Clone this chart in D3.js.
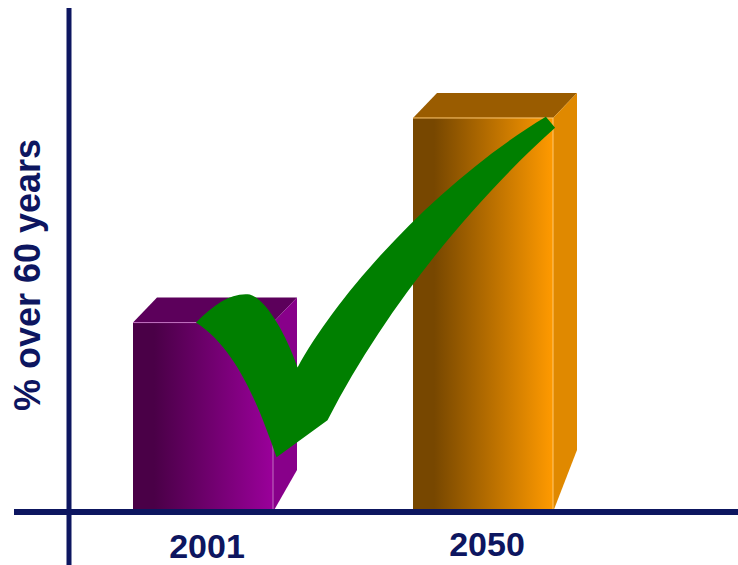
<!DOCTYPE html>
<html>
<head>
<meta charset="utf-8">
<script src="https://cdn.jsdelivr.net/npm/d3@7"></script>
<style>
    body { margin: 0; background: #fff; }
    svg { display: block; }
</style>
</head>
<body>
<div id="chart"></div>
<script>
// data
var years = ["2001", "2050"];
var percentOver60 = [10, 20.8];
var barColors = [
    {dark: "#4a0047", light: "#9a009a", top: "#5c005b", side: "#88008a", edge: "#c070c0"},
    {dark: "#774700", light: "#ff9a00", top: "#9a5c00", side: "#e08900", edge: "#ffc870"}
];
// how far the side face is cut at the bottom (px)
var sideCut = [42, 62];

var width = 738, height = 565;
var navy = "#0d1660";
var depthX = 24, depthY = 25;

var svg = d3.select("#chart").append("svg")
    .attr("width", width)
    .attr("height", height);

var x = d3.scaleBand().domain(years).range([63, 623]).paddingInner(0.5).paddingOuter(0.25);
var y = d3.scaleLinear().domain([0, 26.5]).range([512, 10]);
var bw = x.bandwidth();

var defs = svg.append("defs");
barColors.forEach(function (c, i) {
    var g = defs.append("linearGradient").attr("id", "front" + i)
        .attr("x1", "0%").attr("x2", "100%").attr("y1", "0%").attr("y2", "0%");
    g.append("stop").attr("offset", "0%").attr("stop-color", c.dark);
    g.append("stop").attr("offset", "15%").attr("stop-color", c.dark);
    g.append("stop").attr("offset", "100%").attr("stop-color", c.light);
});

// bars
var bars = svg.selectAll("g.bar").data(years).enter().append("g").attr("class", "bar");
bars.each(function (yr, i) {
    var g = d3.select(this);
    var x0 = x(yr), x1 = x(yr) + bw, yt = y(percentOver60[i]), yb = y(0);
    var c = barColors[i];
    g.append("polygon")
        .attr("points", [[x0, yt], [x0 + depthX, yt - depthY], [x1 + depthX, yt - depthY], [x1, yt]].join(" "))
        .attr("fill", c.top);
    g.append("polygon")
        .attr("points", [[x1, yt], [x1 + depthX, yt - depthY], [x1 + depthX, yb - sideCut[i]], [x1, yb]].join(" "))
        .attr("fill", c.side);
    g.append("rect")
        .attr("x", x0).attr("y", yt)
        .attr("width", bw).attr("height", yb - yt)
        .attr("fill", "url(#front" + i + ")");
    g.append("path")
        .attr("d", "M" + x0 + "," + yt + "H" + x1 + "V" + yb)
        .attr("fill", "none")
        .attr("stroke", c.edge)
        .attr("stroke-width", 1);
});

// check mark, shape in units of the two bars (0 = left of 2001 / axis, 1 = right of 2050 / its top)
var u = d3.scaleLinear().domain([0, 1]).range([x(years[0]), x(years[1]) + bw]);
var v = d3.scaleLinear().domain([0, 1]).range([y(0), y(percentOver60[1])]);
var check = [
    ["M", .150, .481],
    ["C", .195, .529, .235, .557, .278, .552],
    ["C", .314, .542, .361, .461, .392, .367],
    ["C", .492, .562, .729, .841, .983, 1.003],
    ["L", 1.005, .975],
    ["C", .824, .803, .610, .537, .463, .233],
    ["L", .342, .139],
    ["C", .306, .246, .254, .410, .150, .481]
];
var d = check.map(function (s) {
    var out = s[0];
    for (var k = 1; k < s.length; k += 2) {
        out += (k > 1 ? " " : "") + u(s[k]).toFixed(1) + "," + v(s[k + 1]).toFixed(1);
    }
    return out;
}).join(" ") + "Z";
svg.append("path").attr("d", d).attr("fill", "#007f00");

// axes
svg.append("line")
    .attr("x1", 69).attr("x2", 69).attr("y1", 8).attr("y2", height)
    .attr("stroke", navy).attr("stroke-width", 5);
svg.append("line")
    .attr("x1", 14).attr("x2", width).attr("y1", y(0)).attr("y2", y(0))
    .attr("stroke", navy).attr("stroke-width", 6);

// labels
svg.selectAll("text.year").data(years).enter().append("text")
    .attr("class", "year")
    .attr("x", function (d) { return x(d) + bw / 2 + 4; })
    .attr("y", function (d, i) { return i === 0 ? 558 : 556; })
    .attr("text-anchor", "middle")
    .attr("font-family", "Liberation Sans, Arial, sans-serif")
    .attr("font-weight", "bold")
    .attr("font-size", 34)
    .attr("fill", navy)
    .text(function (d) { return d; });

svg.append("text")
    .attr("transform", "translate(40,275) rotate(-90)")
    .attr("text-anchor", "middle")
    .attr("font-family", "Liberation Sans, Arial, sans-serif")
    .attr("font-weight", "bold")
    .attr("font-size", 36)
    .attr("fill", navy)
    .text("% over 60 years");
</script>
</body>
</html>
